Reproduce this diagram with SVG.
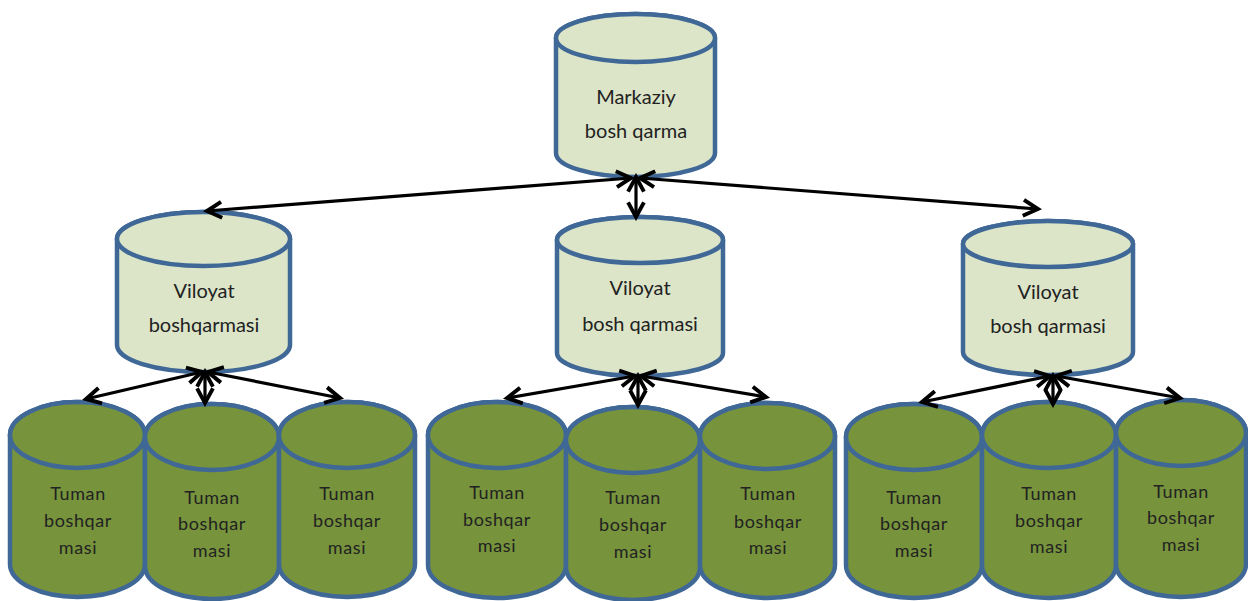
<svg xmlns="http://www.w3.org/2000/svg" width="1248" height="601" viewBox="0 0 1248 601">
  <style>
    .light .body, .light .cap { fill: #dde5c9; }
    .dark .body, .dark .cap { fill: #77933c; }
    .body, .cap { stroke: #3f6897; stroke-width: 4.5; }
    .lbl { font-family: Lato, "Open Sans", "Liberation Sans", sans-serif; fill: #222; text-anchor: middle; }
    .lbl-top { font-size: 20px; }
    .lbl-bot { font-size: 18px; letter-spacing: 0.6px; }
    .link { stroke: #000; stroke-width: 3.2; fill: none; marker-start: url(#tip); marker-end: url(#tip); }
  </style>
  <defs>
    <marker id="tip" markerUnits="userSpaceOnUse" markerWidth="22" markerHeight="22" viewBox="-15 -9 18 18" refX="0" refY="0" orient="auto-start-reverse">
      <path d="M -12 -6.5 L 0 0 L -12 6.5" fill="none" stroke="#000" stroke-width="3.2"/>
    </marker>
  </defs>

  <rect width="1248" height="601" fill="#fff"/>

  <!-- central office -->
  <g id="markaziy" class="light">
    <path class="body" d="M 556 38 A 79.5 24 0 0 1 715 38 L 715 153 A 79.5 24 0 0 1 556 153 Z"/>
    <ellipse class="cap" cx="635.5" cy="38" rx="79.5" ry="24"/>
    <text class="lbl lbl-top" x="636" y="104">Markaziy</text>
    <text class="lbl lbl-top" x="636" y="138">bosh qarma</text>
  </g>

  <!-- regional offices -->
  <g id="viloyat-1" class="light">
    <path class="body" d="M 117 239 A 86.5 27 0 0 1 290 239 L 290 345 A 86.5 27 0 0 1 117 345 Z"/>
    <ellipse class="cap" cx="203.5" cy="239" rx="86.5" ry="27"/>
    <text class="lbl lbl-top" x="204" y="298">Viloyat</text>
    <text class="lbl lbl-top" x="204" y="332">boshqarmasi</text>
  </g>
  <g id="viloyat-2" class="light">
    <path class="body" d="M 557 240 A 83 23 0 0 1 723 240 L 723 353 A 83 23 0 0 1 557 353 Z"/>
    <ellipse class="cap" cx="640" cy="240" rx="83" ry="23"/>
    <text class="lbl lbl-top" x="640" y="295">Viloyat</text>
    <text class="lbl lbl-top" x="640" y="331">bosh qarmasi</text>
  </g>
  <g id="viloyat-3" class="light">
    <path class="body" d="M 963 244 A 85 23 0 0 1 1133 244 L 1133 352 A 85 23 0 0 1 963 352 Z"/>
    <ellipse class="cap" cx="1048" cy="244" rx="85" ry="23"/>
    <text class="lbl lbl-top" x="1048" y="299">Viloyat</text>
    <text class="lbl lbl-top" x="1048" y="333">bosh qarmasi</text>
  </g>

  <!-- district offices, group 1 -->
  <g id="tuman-1-1" class="dark">
    <path class="body" d="M 10 435 A 67.5 33 0 0 1 145 435 L 145 564 A 67.5 33 0 0 1 10 564 Z"/>
    <ellipse class="cap" cx="77.5" cy="435" rx="67.5" ry="33"/>
    <text class="lbl lbl-bot" x="78" y="500">Tuman</text>
    <text class="lbl lbl-bot" x="78" y="527">boshqar</text>
    <text class="lbl lbl-bot" x="78" y="554">masi</text>
  </g>
  <g id="tuman-1-2" class="dark">
    <path class="body" d="M 145 437 A 67 33 0 0 1 279 437 L 279 566 A 67 33 0 0 1 145 566 Z"/>
    <ellipse class="cap" cx="212" cy="437" rx="67" ry="33"/>
    <text class="lbl lbl-bot" x="212" y="504">Tuman</text>
    <text class="lbl lbl-bot" x="212" y="530">boshqar</text>
    <text class="lbl lbl-bot" x="212" y="557">masi</text>
  </g>
  <g id="tuman-1-3" class="dark">
    <path class="body" d="M 279 435 A 68 33 0 0 1 415 435 L 415 564 A 68 33 0 0 1 279 564 Z"/>
    <ellipse class="cap" cx="347" cy="435" rx="68" ry="33"/>
    <text class="lbl lbl-bot" x="347" y="500">Tuman</text>
    <text class="lbl lbl-bot" x="347" y="527">boshqar</text>
    <text class="lbl lbl-bot" x="347" y="554">masi</text>
  </g>

  <!-- district offices, group 2 -->
  <g id="tuman-2-1" class="dark">
    <path class="body" d="M 428 435 A 69 33 0 0 1 566 435 L 566 565 A 69 33 0 0 1 428 565 Z"/>
    <ellipse class="cap" cx="497" cy="435" rx="69" ry="33"/>
    <text class="lbl lbl-bot" x="497" y="499">Tuman</text>
    <text class="lbl lbl-bot" x="497" y="526">boshqar</text>
    <text class="lbl lbl-bot" x="497" y="552">masi</text>
  </g>
  <g id="tuman-2-2" class="dark">
    <path class="body" d="M 566 440 A 67 33 0 0 1 700 440 L 700 567 A 67 33 0 0 1 566 567 Z"/>
    <ellipse class="cap" cx="633" cy="440" rx="67" ry="33"/>
    <text class="lbl lbl-bot" x="633" y="504">Tuman</text>
    <text class="lbl lbl-bot" x="633" y="531">boshqar</text>
    <text class="lbl lbl-bot" x="633" y="558">masi</text>
  </g>
  <g id="tuman-2-3" class="dark">
    <path class="body" d="M 700 436 A 67.5 33 0 0 1 835 436 L 835 565 A 67.5 33 0 0 1 700 565 Z"/>
    <ellipse class="cap" cx="767.5" cy="436" rx="67.5" ry="33"/>
    <text class="lbl lbl-bot" x="768" y="500">Tuman</text>
    <text class="lbl lbl-bot" x="768" y="528">boshqar</text>
    <text class="lbl lbl-bot" x="768" y="554">masi</text>
  </g>

  <!-- district offices, group 3 -->
  <g id="tuman-3-1" class="dark">
    <path class="body" d="M 846 437 A 68 33 0 0 1 982 437 L 982 565 A 68 33 0 0 1 846 565 Z"/>
    <ellipse class="cap" cx="914" cy="437" rx="68" ry="33"/>
    <text class="lbl lbl-bot" x="914" y="504">Tuman</text>
    <text class="lbl lbl-bot" x="914" y="530">boshqar</text>
    <text class="lbl lbl-bot" x="914" y="557">masi</text>
  </g>
  <g id="tuman-3-2" class="dark">
    <path class="body" d="M 982 435 A 67 33 0 0 1 1116 435 L 1116 565 A 67 33 0 0 1 982 565 Z"/>
    <ellipse class="cap" cx="1049" cy="435" rx="67" ry="33"/>
    <text class="lbl lbl-bot" x="1049" y="500">Tuman</text>
    <text class="lbl lbl-bot" x="1049" y="527">boshqar</text>
    <text class="lbl lbl-bot" x="1049" y="553">masi</text>
  </g>
  <g id="tuman-3-3" class="dark">
    <path class="body" d="M 1116 433 A 65 33 0 0 1 1246 433 L 1246 564 A 65 33 0 0 1 1116 564 Z"/>
    <ellipse class="cap" cx="1181" cy="433" rx="65" ry="33"/>
    <text class="lbl lbl-bot" x="1181" y="498">Tuman</text>
    <text class="lbl lbl-bot" x="1181" y="524">boshqar</text>
    <text class="lbl lbl-bot" x="1181" y="551">masi</text>
  </g>

  <!-- connectors -->
  <g id="connectors">
    <line class="link" x1="631" y1="178" x2="207" y2="211"/>
    <line class="link" x1="636" y1="177" x2="636" y2="217"/>
    <line class="link" x1="640" y1="178" x2="1038" y2="209"/>

    <line class="link" x1="202" y1="372" x2="86" y2="399"/>
    <line class="link" x1="205" y1="372" x2="205" y2="403"/>
    <line class="link" x1="208" y1="372" x2="340" y2="398"/>

    <line class="link" x1="635" y1="376" x2="507" y2="398"/>
    <line class="link" x1="638" y1="376" x2="638" y2="405"/>
    <line class="link" x1="641" y1="376" x2="766" y2="397"/>

    <line class="link" x1="1050" y1="376" x2="922" y2="402"/>
    <line class="link" x1="1053" y1="376" x2="1053" y2="404"/>
    <line class="link" x1="1056" y1="376" x2="1180" y2="398"/>
  </g>
</svg>
